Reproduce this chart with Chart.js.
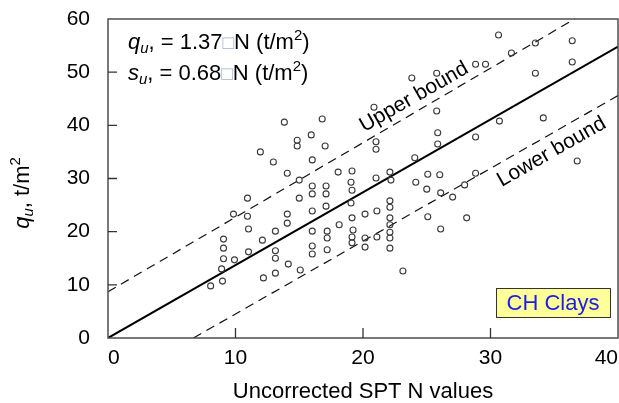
<!DOCTYPE html>
<html lang="en">
<head>
<meta charset="UTF-8" />
<title>qu vs SPT N - CH Clays</title>
<script src="https://cdn.jsdelivr.net/npm/chart.js"></script>
<style>
  body { margin: 0; background: #fff; }
  #chart { display: block; }
</style>
</head>
<body>
<canvas id="chart" width="619" height="403"></canvas>
<script>
const sptN = [
  8.05, 8.98, 8.91, 9.06, 9.92, 9.06, 9.06, 9.84, 10.94, 10.94,
  11.02, 11.02, 11.95, 12.19, 13.13, 13.13, 13.13, 13.13, 12.11, 12.97,
  14.06, 14.06, 14.06, 14.14, 13.83, 14.84, 14.84, 15.94, 16.8, 17.03,
  15.0, 15.0, 15.08, 16.02, 16.02, 16.02, 16.02, 16.02, 16.02, 16.02,
  17.1, 17.1, 17.1, 17.19, 17.19, 17.19, 18.05, 19.14, 19.06, 19.14,
  19.06, 19.14, 19.22, 19.14, 19.14, 18.13, 20.16, 20.16, 20.16, 21.09,
  21.09, 21.02, 21.02, 21.02, 20.86, 22.11, 22.19, 22.11, 22.11, 22.11,
  22.11, 22.11, 22.11, 22.11, 23.13, 23.83, 25.78, 25.78, 25.86, 25.86,
  24.06, 24.14, 25.08, 26.02, 25.0, 26.09, 25.08, 26.09, 27.03, 27.97,
  28.13, 28.83, 28.83, 28.83, 29.61, 30.63, 30.7, 31.64, 33.52, 33.52,
  34.14, 36.41, 36.41, 36.8
];
const quValues = [
  9.8, 10.7, 13.0, 14.9, 14.7, 16.9, 18.6, 23.3, 22.9, 26.3,
  20.5, 16.2, 35.0, 11.3, 12.2, 15.0, 16.4, 20.1, 18.4, 33.1,
  31.0, 23.3, 21.6, 13.9, 40.6, 37.2, 36.1, 38.2, 41.2, 36.1,
  29.7, 26.3, 12.8, 33.5, 28.6, 27.1, 23.9, 20.1, 17.3, 15.8,
  28.6, 27.1, 24.8, 20.1, 18.8, 16.6, 31.2, 31.4, 29.3, 27.8,
  25.4, 22.6, 20.3, 19.0, 17.9, 21.3, 23.3, 18.8, 17.1, 23.9,
  19.0, 30.1, 36.9, 35.5, 43.4, 31.2, 29.7, 25.8, 24.6, 22.6,
  21.3, 19.9, 18.8, 16.9, 12.6, 48.9, 49.8, 42.7, 38.6, 36.5,
  33.9, 29.3, 30.8, 30.7, 28.0, 27.3, 22.8, 20.5, 26.5, 28.8,
  22.6, 31.0, 37.8, 51.5, 51.5, 57.0, 40.8, 53.6, 55.5, 49.8,
  41.4, 55.9, 51.9, 33.3
];

// fitted line qu = 1.37 N and the two bounds (end points)
const fitN = [0, 40];
const fitQ = [0, 54.8];
const upperN = [0, 36.6];
const upperQ = [8.7, 60];
const lowerN = [6.7, 40];
const lowerQ = [0, 45.6];

const xTicks = [0, 10, 20, 30, 40];
const yTicks = [0, 10, 20, 30, 40, 50, 60];

const FONT = '"Liberation Sans", Arial, sans-serif';
const toXY = (xs, ys) => xs.map((x, i) => ({ x: x, y: ys[i] }));

// draws a row of text pieces with different fonts (for sub/superscripts)
function drawRuns(ctx, runs, x, y, align) {
  let w = 0;
  runs.forEach(r => { ctx.font = r.font; r.w = ctx.measureText(r.t).width; w += r.w; });
  let cx = align === 'center' ? x - w / 2 : x;
  runs.forEach(r => {
    ctx.font = r.font;
    ctx.fillStyle = r.color || '#000';
    ctx.fillText(r.t, cx, y + (r.dy || 0));
    cx += r.w;
  });
}

const decor = {
  id: 'decor',
  afterDatasetsDraw(chart) {
    const ctx = chart.ctx;
    const a = chart.chartArea;
    const xs = chart.scales.x, ys = chart.scales.y;
    ctx.save();

    // frame
    ctx.strokeStyle = '#4d4d4d';
    ctx.lineWidth = 1.5;
    ctx.strokeRect(a.left, a.top, a.right - a.left, a.bottom - a.top);

    // inward tick marks
    ctx.strokeStyle = '#333';
    ctx.lineWidth = 1.3;
    ctx.beginPath();
    xTicks.slice(1, -1).forEach(v => {
      const px = xs.getPixelForValue(v);
      ctx.moveTo(px, a.bottom); ctx.lineTo(px, a.bottom - 10);
    });
    yTicks.slice(1, -1).forEach(v => {
      const py = ys.getPixelForValue(v);
      ctx.moveTo(a.left, py); ctx.lineTo(a.left + 9, py);
    });
    ctx.stroke();

    ctx.textBaseline = 'alphabetic';
    const big = '22px ' + FONT, small = '15px ' + FONT, box = '19px ' + FONT;
    const it = 'italic 22px ' + FONT, itSmall = 'italic 15px ' + FONT;

    // equations
    drawRuns(ctx, [
      { t: 'q', font: it }, { t: 'u', font: itSmall, dy: 4 },
      { t: ', = 1.37', font: big }, { t: '\u25A1', font: box, color: '#9fb3d6' },
      { t: 'N (t/m', font: big }, { t: '2', font: small, dy: -9 }, { t: ')', font: big }
    ], a.left + 20, a.top + 30, 'left');
    drawRuns(ctx, [
      { t: 's', font: it }, { t: 'u', font: itSmall, dy: 4 },
      { t: ', = 0.68', font: big }, { t: '\u25A1', font: box, color: '#9fb3d6' },
      { t: 'N (t/m', font: big }, { t: '2', font: small, dy: -9 }, { t: ')', font: big }
    ], a.left + 20, a.top + 61, 'left');

    // bound labels, turned along the lines
    const ang = Math.atan2(
      ys.getPixelForValue(fitQ[1]) - ys.getPixelForValue(fitQ[0]),
      xs.getPixelForValue(fitN[1]) - xs.getPixelForValue(fitN[0]));
    ctx.font = '21px ' + FONT;
    ctx.fillStyle = '#000';
    ctx.textAlign = 'center';
    ctx.textBaseline = 'middle';
    [['Upper bound', 24.0, 45.3], ['Lower bound', 34.8, 35.0]].forEach(([txt, n, q]) => {
      ctx.save();
      ctx.translate(xs.getPixelForValue(n), ys.getPixelForValue(q));
      ctx.rotate(ang);
      ctx.fillText(txt, 0, 0);
      ctx.restore();
    });

    // CH Clays box
    const bx = a.right - 122, by = a.bottom - 50;
    ctx.fillStyle = '#ffff99';
    ctx.fillRect(bx, by, 114, 29);
    ctx.strokeStyle = '#333';
    ctx.lineWidth = 1;
    ctx.strokeRect(bx + 0.5, by + 0.5, 114, 29);
    ctx.fillStyle = '#1c1ce6';
    ctx.font = '22px ' + FONT;
    ctx.fillText('CH Clays', bx + 57, by + 15.5);

    // y axis title
    ctx.textAlign = 'left';
    ctx.textBaseline = 'alphabetic';
    ctx.translate(29, 193);
    ctx.rotate(-Math.PI / 2);
    drawRuns(ctx, [
      { t: 'q', font: 'italic 22px ' + FONT }, { t: 'u', font: 'italic 15px ' + FONT, dy: 4 },
      { t: ', t/m', font: '22px ' + FONT }, { t: '2', font: '15px ' + FONT, dy: -9 }
    ], 0, 0, 'center');
    ctx.restore();
  }
};

new Chart(document.getElementById('chart'), {
  type: 'scatter',
  data: {
    datasets: [
      {
        data: toXY(sptN, quValues),
        pointStyle: 'circle', pointRadius: 3, pointHoverRadius: 3,
        pointBackgroundColor: 'rgba(255,255,255,0)', pointBorderColor: '#3a3a3a', pointBorderWidth: 1.1
      },
      {
        type: 'line', data: toXY(fitN, fitQ),
        borderColor: '#000', borderWidth: 2, pointRadius: 0, fill: false
      },
      {
        type: 'line', data: toXY(upperN, upperQ),
        borderColor: '#111', borderWidth: 1.2, borderDash: [9, 6], pointRadius: 0, fill: false
      },
      {
        type: 'line', data: toXY(lowerN, lowerQ),
        borderColor: '#111', borderWidth: 1.2, borderDash: [9, 6], pointRadius: 0, fill: false
      }
    ]
  },
  options: {
    responsive: false,
    animation: false,
    devicePixelRatio: 1,
    layout: { autoPadding: false, padding: { top: 19, right: 1, left: 0, bottom: 0 } },
    plugins: { legend: { display: false }, tooltip: { enabled: false } },
    scales: {
      x: {
        type: 'linear', min: 0, max: 40,
        afterBuildTicks: s => { s.ticks = xTicks.map(v => ({ value: v })); },
        afterFit: s => { s.height = 65; s.paddingLeft = 0; s.paddingRight = 0; },
        grid: { display: false, drawTicks: false },
        border: { display: false },
        ticks: { align: 'inner', padding: 8, color: '#000', font: { family: FONT, size: 21 } },
        title: { display: true, text: 'Uncorrected SPT N values', color: '#000',
                 padding: { top: 0, bottom: -2 }, font: { family: FONT, size: 22 } }
      },
      y: {
        type: 'linear', min: 0, max: 60,
        afterBuildTicks: s => { s.ticks = yTicks.map(v => ({ value: v })); },
        afterFit: s => { s.width = 108; s.paddingTop = 0; s.paddingBottom = 0; },
        grid: { display: false, drawTicks: false },
        border: { display: false },
        ticks: { padding: 18, color: '#000', font: { family: FONT, size: 21 } }
      }
    }
  },
  plugins: [decor]
});
</script>
</body>
</html>
